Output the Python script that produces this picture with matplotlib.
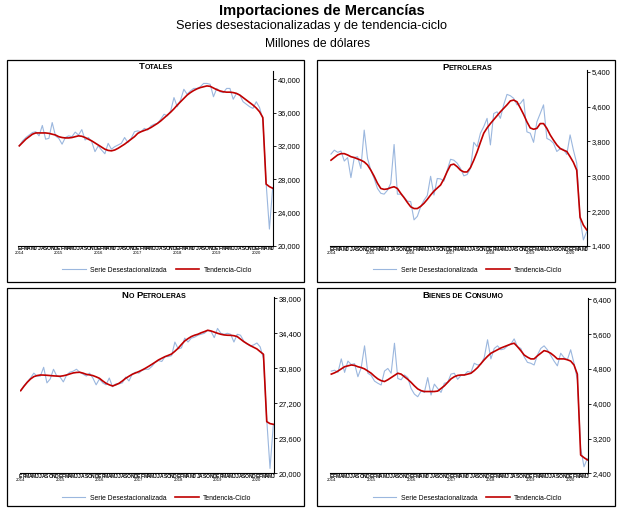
import matplotlib
matplotlib.use('Agg')
import matplotlib.pyplot as plt
from matplotlib.offsetbox import TextArea, HPacker, AnchoredOffsetbox
from matplotlib.patches import Rectangle
from matplotlib.ticker import FuncFormatter
from matplotlib.lines import Line2D

plt.rcParams['font.family'] = ['Liberation Sans', 'DejaVu Sans']

# ---------------- DATA (Jan 2014 - Jun 2020, monthly) ----------------
month_letters = ['E', 'F', 'M', 'A', 'M', 'J', 'J', 'A', 'S', 'O', 'N', 'D']
years = ['2014', '2015', '2016', '2017', '2018', '2019', '2020']
n_months = 78

totales_serie = [
    32000, 32600, 33000, 33300, 33600, 33700, 33200, 34450, 32800, 32900, 34800, 33200,
    32900, 32200, 33000, 33200, 33100, 33650, 33300, 33950, 32700, 33000, 32500, 31300,
    32000, 31500, 31050, 32300, 31600, 31900, 32100, 32300, 33000, 32400, 32900, 33700,
    33800, 33700, 34100, 33900, 34400, 34600, 34700, 35200, 35800, 35600, 36200, 37800,
    36700, 37500, 38800, 38200, 38600, 38900, 38900, 39100, 39500, 39500, 39400, 37900,
    38900, 38500, 38400, 38900, 38900, 37600, 38300, 38100, 37300, 37000, 36700, 36500,
    37300, 36600, 35200, 27500, 22000, 27000]
totales_tend = [
    32000, 32400, 32800, 33100, 33400, 33550, 33550, 33550, 33550, 33500, 33400, 33300,
    33100, 33000, 32950, 32950, 33000, 33100, 33200, 33150, 33000, 32800, 32600, 32350,
    32100, 31850, 31600, 31450, 31400, 31500, 31700, 31950, 32200, 32500, 32800, 33100,
    33500, 33700, 33850, 34000, 34200, 34450, 34700, 35000, 35350, 35700, 36050, 36450,
    36900, 37300, 37700, 38100, 38400, 38650, 38850, 39000, 39100, 39200, 39150, 38950,
    38750, 38600, 38500, 38450, 38450, 38400, 38300, 38100, 37800, 37500, 37200, 36900,
    36550, 36100, 35400, 27400, 27100, 26900]

petro_serie = [
    3510, 3600, 3550, 3580, 3350, 3430, 2970, 3430, 3450, 3180, 4060, 3410,
    3140, 2950, 2720, 2610, 2590, 2680, 2840, 3730, 2590, 2590, 2520, 2430,
    2420, 2000, 2080, 2300, 2450, 2560, 3000, 2570, 2950, 2940, 2890, 3140,
    3390, 3370, 3300, 3180, 3010, 3040, 3180, 3780, 3680, 3990, 4140, 4330,
    3720, 4440, 4480, 4330, 4640, 4880, 4850, 4790, 4640, 4670, 4770, 4020,
    3990, 3780, 4250, 4440, 4640, 3870, 3830, 3760, 3570, 3630, 3620, 3500,
    3950, 3600, 3300, 2030, 1540, 1730]
petro_tend = [
    3370, 3430, 3490, 3520, 3520, 3490, 3450, 3430, 3400, 3370, 3330, 3260,
    3140, 3000, 2840, 2720, 2700, 2710, 2740, 2760, 2720, 2610, 2510, 2400,
    2300, 2260, 2260, 2310, 2380, 2470, 2570, 2660, 2730, 2800, 2940, 3110,
    3260, 3280, 3220, 3140, 3100, 3100, 3200, 3370, 3560, 3780, 3990, 4110,
    4210, 4300, 4390, 4480, 4560, 4640, 4730, 4750, 4710, 4570, 4420, 4250,
    4110, 4080, 4100, 4210, 4210, 4100, 3950, 3830, 3720, 3640, 3600, 3570,
    3450, 3320, 3140, 2060, 1880, 1770]

nopetro_serie = [
    28500, 29000, 29400, 29800, 30300, 30000, 30000, 30900, 29300, 29700, 30700, 30000,
    29900, 29400, 30100, 30400, 30500, 30700, 30400, 30200, 30000, 30300, 29800, 29100,
    29700, 29300, 29100, 29800, 28900, 29200, 29200, 29300, 29900, 29500, 30200, 30400,
    30300, 30600, 30700, 30700, 31000, 31400, 31600, 31500, 32000, 32000, 32100, 33500,
    32800, 32900, 33900, 33500, 33900, 34000, 34200, 34300, 34400, 34700, 34600, 33950,
    34900, 34400, 34300, 34400, 34300, 33500, 34300, 34200, 33600, 33300, 33100, 33200,
    33400, 33000, 31800, 25500, 20500, 25000]
nopetro_tend = [
    28500, 28950, 29360, 29700, 29940, 30050, 30110, 30100, 30080, 30050, 30020, 30000,
    29980, 30030, 30110, 30220, 30320, 30370, 30390, 30300, 30180, 30120, 30050, 29920,
    29770, 29500, 29260, 29100, 28980, 29100, 29260, 29500, 29770, 29980, 30180, 30320,
    30460, 30620, 30800, 31000, 31210, 31430, 31660, 31830, 32000, 32130, 32270, 32550,
    32860, 33250, 33610, 33850, 34060, 34200, 34300, 34450, 34570, 34710, 34640, 34520,
    34400, 34300, 34230, 34200, 34190, 34150, 34060, 33800, 33540, 33330, 33130, 32960,
    32790, 32510, 32240, 25310, 25110, 25040]

consumo_serie = [
    4750, 4770, 4720, 5030, 4720, 4980, 4900, 4920, 4620, 4830, 5330, 4700,
    4650, 4520, 4470, 4430, 4750, 4810, 4700, 5390, 4580, 4550, 4660, 4600,
    4350, 4220, 4160, 4290, 4260, 4600, 4200, 4450, 4350, 4260, 4470, 4490,
    4680, 4700, 4560, 4650, 4660, 4740, 4720, 4930, 4890, 4910, 5060, 5470,
    5030, 5270, 5330, 5240, 5260, 5330, 5370, 5490, 5310, 5270, 5080, 4950,
    4930, 4890, 5120, 5270, 5330, 5240, 5110, 4980, 4870, 5160, 5060, 5010,
    5240, 4930, 4550, 2980, 2550, 2740]
consumo_tend = [
    4680, 4710, 4750, 4800, 4850, 4870, 4890, 4880, 4850, 4830, 4800, 4750,
    4700, 4630, 4570, 4530, 4510, 4550, 4600, 4650, 4700, 4680, 4620, 4560,
    4490, 4410, 4340, 4300, 4280, 4280, 4280, 4280, 4290, 4350, 4410, 4490,
    4570, 4620, 4650, 4660, 4660, 4680, 4700, 4760, 4830, 4920, 5010, 5090,
    5160, 5200, 5240, 5280, 5310, 5340, 5370, 5390, 5310, 5220, 5120, 5070,
    5030, 5030, 5100, 5160, 5220, 5200, 5160, 5100, 5030, 5030, 5030, 5010,
    4980, 4890, 4680, 2820, 2760, 2710]

totales_ticks = [20000, 24000, 28000, 32000, 36000, 40000]
petro_ticks = [1400, 2200, 3000, 3800, 4600, 5400]
nopetro_ticks = [20000, 23600, 27200, 30800, 34400, 38000]
consumo_ticks = [2400, 3200, 4000, 4800, 5600, 6400]

legend_labels = ['Serie Desestacionalizada', 'Tendencia-Ciclo']

# ---------------- STYLE / LAYOUT ----------------
W, H = 623, 511
BLUE = '#9BB7DE'
RED = '#C00000'

fig = plt.figure(figsize=(W / 100, H / 100), dpi=100)


def fx(px):
    return px / W


def fy(py):
    return 1 - py / H


# titles
fig.text(fx(321.5), fy(14.5), 'Importaciones de Mercancías', ha='center', va='baseline',
         fontsize=10.5, fontweight='bold')
fig.text(fx(311.5), fy(29.5), 'Series desestacionalizadas y de tendencia-ciclo', ha='center',
         va='baseline', fontsize=9.2)
fig.text(fx(317.5), fy(47.3), 'Millones de dólares', ha='center', va='baseline', fontsize=8.7)


def smallcaps(parts, cx, cy):
    boxes = [TextArea(t, textprops=dict(fontsize=s, fontweight='bold', color='black'))
             for t, s in parts]
    pack = HPacker(children=boxes, align='baseline', pad=0, sep=0)
    ab = AnchoredOffsetbox(loc='center', child=pack, frameon=False,
                           bbox_to_anchor=(fx(cx), fy(cy)), bbox_transform=fig.transFigure,
                           pad=0, borderpad=0)
    fig.add_artist(ab)


BIG, SMALL = 6.8, 5.1

panels = [
    dict(box=(7, 60, 304, 282), ax=(18.3, 273.2, 70.7, 245.7), ylim=(20000, 41030),
         serie=totales_serie, tend=totales_tend, ticks=totales_ticks,
         title=[('T', BIG), ('OTALES', SMALL)], tpos=(155.8, 66.7), leg=(157, 270)),
    dict(box=(317, 60, 615, 282), ax=(330.0, 587.2, 70.0, 246.0), ylim=(1400, 5440),
         serie=petro_serie, tend=petro_tend, ticks=petro_ticks,
         title=[('P', BIG), ('ETROLERAS', SMALL)], tpos=(467.5, 67.3), leg=(467.5, 270)),
    dict(box=(7, 288, 304, 506), ax=(19.7, 273.8, 297.3, 473.3), ylim=(20000, 38100),
         serie=nopetro_serie, tend=nopetro_tend, ticks=nopetro_ticks,
         title=[('N', BIG), ('O ', SMALL), ('P', BIG), ('ETROLERAS', SMALL)], tpos=(154, 295),
         leg=(156.5, 498.3)),
    dict(box=(317, 288, 615, 506), ax=(330.3, 587.8, 298.3, 473.3), ylim=(2400, 6423),
         serie=consumo_serie, tend=consumo_tend, ticks=consumo_ticks,
         title=[('B', BIG), ('IENES DE ', SMALL), ('C', BIG), ('ONSUMO', SMALL)], tpos=(463, 295),
         leg=(467.5, 498.3)),
]

x = list(range(n_months))
mlabels = [month_letters[i % 12] for i in x]

for p in panels:
    bx0, by0, bx1, by1 = p['box']
    fig.patches.append(Rectangle((fx(bx0), fy(by1)), (bx1 - bx0) / W, (by1 - by0) / H,
                                 transform=fig.transFigure, fill=False, edgecolor='black',
                                 linewidth=0.9, zorder=0))
    l, r, t, b = p['ax']
    ax = fig.add_axes([fx(l), fy(b), (r - l) / W, (b - t) / H])
    ax.patch.set_alpha(0)
    ax.plot(x, p['serie'], color=BLUE, lw=0.8)
    ax.plot(x, p['tend'], color=RED, lw=1.2)
    ax.set_xlim(-0.3, 77.15)
    ax.set_ylim(*p['ylim'])
    for s in ['left', 'top']:
        ax.spines[s].set_visible(False)
    ax.spines['right'].set_linewidth(0.8)
    ax.spines['bottom'].set_linewidth(0.8)
    ax.yaxis.tick_right()
    ax.set_yticks(p['ticks'])
    ax.yaxis.set_major_formatter(FuncFormatter(lambda v, pos: f'{v:,.0f}'))
    ax.tick_params(axis='y', direction='out', length=1.8, width=0.6, pad=1.5, labelsize=5.4)
    ax.set_xticks(x)
    ax.set_xticklabels(mlabels, fontweight='bold')
    ax.tick_params(axis='x', length=0, pad=0.4, labelsize=3.6)
    for i, yr in enumerate(years):
        ax.annotate(yr, xy=(i * 12, 0), xycoords=('data', 'axes fraction'),
                    xytext=(0, -5.0), textcoords='offset points', ha='center', va='center',
                    fontsize=3.1)
    smallcaps(p['title'], *p['tpos'])
    fig.legend([Line2D([], [], color=BLUE, lw=0.8), Line2D([], [], color=RED, lw=1.2)],
               legend_labels, loc='center', bbox_to_anchor=(fx(p['leg'][0]), fy(p['leg'][1])),
               bbox_transform=fig.transFigure, ncol=2, frameon=False, fontsize=4.9,
               handlelength=3.5, handletextpad=0.6, columnspacing=1.3, borderpad=0,
               borderaxespad=0)

fig.savefig('out.png', dpi=100)
